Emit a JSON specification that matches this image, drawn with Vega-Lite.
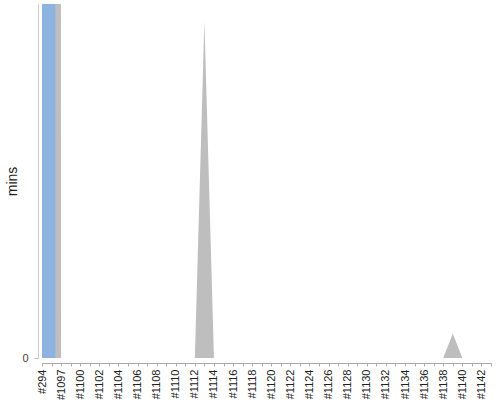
{
  "$schema": "https://vega.github.io/schema/vega-lite/v6.json",
  "autosize": "none",
  "width": 460,
  "height": 354,
  "padding": {"left": 38, "top": 4, "right": 2, "bottom": 42},
  "background": "white",
  "config": {"view": {"stroke": null}, "font": "Liberation Sans"},
  "data": {
    "values": [
      {"job": "#294", "grey": 5000, "blue": 5000},
      {"job": "#1096", "grey": 5000},
      {"job": "#1097", "grey": 0},
      {"job": "#1098", "grey": 0},
      {"job": "#1100", "grey": 0},
      {"job": "#1101", "grey": 0},
      {"job": "#1102", "grey": 0},
      {"job": "#1103", "grey": 0},
      {"job": "#1104", "grey": 0},
      {"job": "#1105", "grey": 0},
      {"job": "#1106", "grey": 0},
      {"job": "#1107", "grey": 0},
      {"job": "#1108", "grey": 0},
      {"job": "#1109", "grey": 0},
      {"job": "#1110", "grey": 0},
      {"job": "#1111", "grey": 0},
      {"job": "#1112", "grey": 0},
      {"job": "#1113", "grey": 95.2},
      {"job": "#1114", "grey": 0},
      {"job": "#1115", "grey": 0},
      {"job": "#1116", "grey": 0},
      {"job": "#1117", "grey": 0},
      {"job": "#1118", "grey": 0},
      {"job": "#1119", "grey": 0},
      {"job": "#1120", "grey": 0},
      {"job": "#1121", "grey": 0},
      {"job": "#1122", "grey": 0},
      {"job": "#1123", "grey": 0},
      {"job": "#1124", "grey": 0},
      {"job": "#1125", "grey": 0},
      {"job": "#1126", "grey": 0},
      {"job": "#1127", "grey": 0},
      {"job": "#1128", "grey": 0},
      {"job": "#1129", "grey": 0},
      {"job": "#1130", "grey": 0},
      {"job": "#1131", "grey": 0},
      {"job": "#1132", "grey": 0},
      {"job": "#1133", "grey": 0},
      {"job": "#1134", "grey": 0},
      {"job": "#1135", "grey": 0},
      {"job": "#1136", "grey": 0},
      {"job": "#1137", "grey": 0},
      {"job": "#1138", "grey": 0},
      {"job": "#1139", "grey": 6.9},
      {"job": "#1140", "grey": 0},
      {"job": "#1141", "grey": 0},
      {"job": "#1142", "grey": 0},
      {"job": "#1143", "grey": 0}
    ]
  },
  "encoding": {
    "x": {
      "field": "job",
      "type": "nominal",
      "sort": null,
      "title": null,
      "scale": {"type": "point", "range": [4, 453], "padding": 0},
      "axis": {
        "labelAngle": -90,
        "labelFontSize": 11,
        "labelColor": "#222",
        "labelPadding": 3,
        "labelExpr": "round(datum.index * 47) % 2 === 0 ? datum.label : ''",
        "tickColor": "#aaa",
        "tickSize": 3,
        "domainColor": "#aaa",
        "offset": 5,
        "grid": false
      }
    }
  },
  "layer": [
    {
      "mark": {"type": "area", "color": "#bebebe", "clip": true, "interpolate": "linear"},
      "encoding": {
        "y": {
          "field": "grey",
          "type": "quantitative",
          "title": "mins",
          "scale": {"domain": [0, 100], "nice": false},
          "axis": {
            "values": [0],
            "grid": false,
            "domainColor": "#cccccc",
            "tickColor": "#bbbbbb",
            "tickSize": 4,
            "labelFontSize": 11,
            "labelColor": "#444",
            "labelPadding": 6,
            "titleFontSize": 14,
            "titleFontWeight": "normal",
            "titleColor": "#222",
            "titlePadding": 2
          }
        }
      }
    },
    {
      "mark": {"type": "bar", "color": "#8db3e0", "clip": true, "size": 13.4, "xOffset": 6.7},
      "encoding": {
        "y": {"field": "blue", "type": "quantitative", "title": "mins"}
      }
    }
  ]
}
